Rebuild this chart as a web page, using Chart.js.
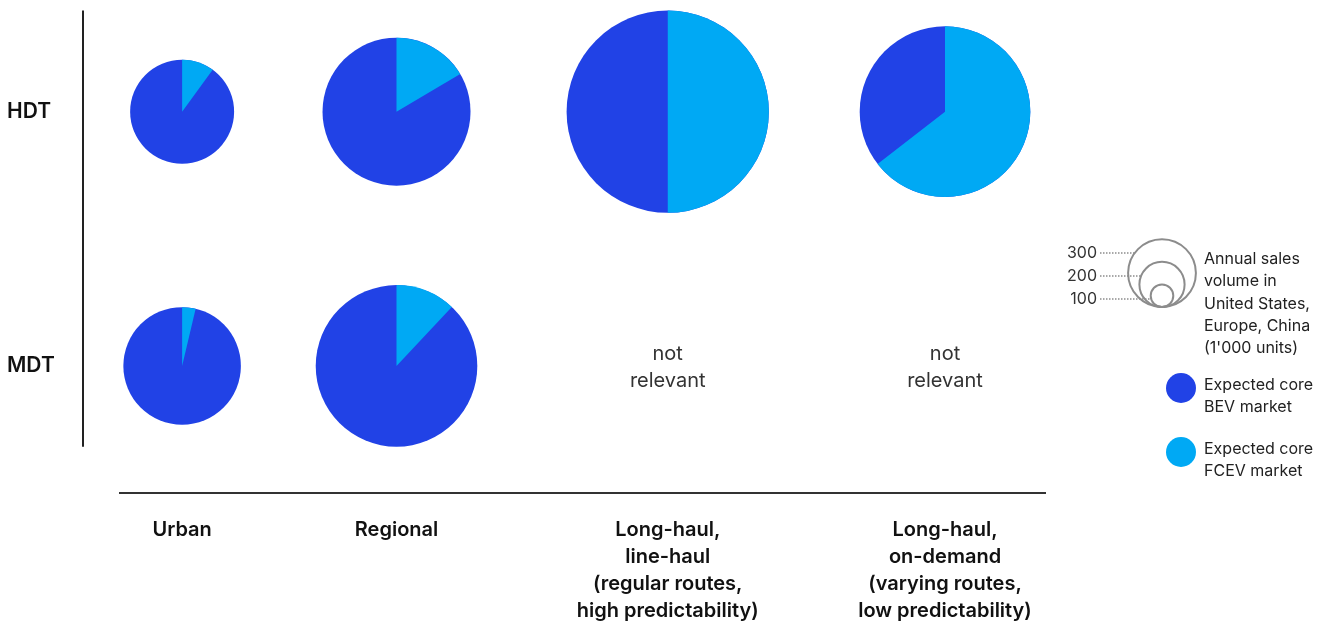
<!DOCTYPE html>
<html>
<head>
<meta charset="utf-8">
<script src="https://cdn.jsdelivr.net/npm/chart.js@4.4.0/dist/chart.umd.min.js"></script>
<style>
  html, body { margin: 0; padding: 0; background: #fff; }
  #wrap { position: relative; width: 1333px; height: 626px; }
</style>
</head>
<body>
<div id="wrap"><canvas id="truckChart"></canvas></div>
<script>
const segments = [
  ["Urban"],
  ["Regional"],
  ["Long-haul,", "line-haul", "(regular routes,", "high predictability)"],
  ["Long-haul,", "on-demand", "(varying routes,", "low predictability)"]
];
const truckClasses = ["HDT", "MDT"];
// annual sales volume, 1'000 units (null = not relevant)
const hdtVolume = [460, 655, 895, 755];
const mdtVolume = [520, 715, null, null];
// share of the expected core FCEV market, %
const hdtFcevShare = [10, 16.5, 50, 64.5];
const mdtFcevShare = [3.7, 12, null, null];
const legendVolumes = [300, 200, 100];
const notRelevantText = ["not", "relevant"];

const BEV_COLOR = "#2142e6";
const FCEV_COLOR = "#00a9f4";
const FONT = "Inter, 'Liberation Sans', Arial, sans-serif";
const PX_PER_UNIT = 0.113;   // bubble radius (px) per 1'000 units
const COLUMN_GAP = 180;      // extra spacing between columns, volume units

// column centres follow the size of the biggest pie in each column
const colMax = segments.map((_, i) => Math.max(hdtVolume[i] || 0, mdtVolume[i] || 0));
const colPos = [];
colMax.forEach((m, i) => {
  colPos.push(i === 0 ? 0 : colPos[i - 1] + colMax[i - 1] + m + COLUMN_GAP);
});
const xMin = colPos[0] - 410;
const xMax = colPos[colPos.length - 1] + 660;

function rowPoints(volumes, shares, row) {
  const points = [];
  volumes.forEach((v, i) => {
    if (v == null) return;
    points.push({ x: colPos[i], y: row, r: v * PX_PER_UNIT, volume: v, fcev: shares[i] });
  });
  return points;
}

// FCEV slice drawn clockwise from 12 o'clock on top of each BEV bubble
const fcevWedges = {
  id: "fcevWedges",
  afterDatasetsDraw(chart) {
    const ctx = chart.ctx;
    chart.data.datasets.forEach((ds, d) => {
      const meta = chart.getDatasetMeta(d);
      meta.data.forEach((pt, i) => {
        const share = ds.data[i].fcev / 100;
        const r = pt.options.radius;
        const start = -Math.PI / 2;
        ctx.save();
        ctx.beginPath();
        ctx.moveTo(pt.x, pt.y);
        ctx.arc(pt.x, pt.y, r, start, start + share * Math.PI * 2);
        ctx.closePath();
        ctx.fillStyle = FCEV_COLOR;
        ctx.fill();
        ctx.restore();
      });
    });
  }
};

const extras = {
  id: "extras",
  afterDraw(chart) {
    const ctx = chart.ctx;
    const xs = chart.scales.x;
    const ys = chart.scales.y;
    const area = chart.chartArea;

    // vertical rule spanning the pies
    let top = Infinity, bottom = -Infinity;
    chart.data.datasets.forEach((ds, d) => {
      chart.getDatasetMeta(d).data.forEach((pt) => {
        top = Math.min(top, pt.y - pt.options.radius);
        bottom = Math.max(bottom, pt.y + pt.options.radius);
      });
    });
    ctx.save();
    ctx.strokeStyle = "#222";
    ctx.lineWidth = 2;
    ctx.beginPath();
    ctx.moveTo(area.left - 37, top);
    ctx.lineTo(area.left - 37, bottom);
    ctx.stroke();

    // "not relevant" cells
    ctx.fillStyle = "#333";
    ctx.font = "400 20px " + FONT;
    ctx.textAlign = "center";
    ctx.textBaseline = "middle";
    [hdtVolume, mdtVolume].forEach((vols, row) => {
      vols.forEach((v, i) => {
        if (v != null) return;
        const cx = xs.getPixelForValue(colPos[i]);
        const cy = ys.getPixelForValue(row);
        notRelevantText.forEach((line, k) => {
          ctx.fillText(line, cx, cy - 12 + k * 27);
        });
      });
    });

    // legend
    const base = area.right;
    const sizeCx = base + 117;
    const sizeBottom = 307;
    ctx.font = "400 16px " + FONT;
    ctx.textAlign = "right";
    const sorted = legendVolumes.slice().sort((a, b) => a - b);
    sorted.forEach((v, k) => {
      const r = v * PX_PER_UNIT;
      const cy = sizeBottom - r;
      ctx.strokeStyle = "#8c8c8c";
      ctx.lineWidth = 2;
      ctx.setLineDash([]);
      ctx.beginPath();
      ctx.arc(sizeCx, cy, r, 0, Math.PI * 2);
      ctx.stroke();
      const ly = sizeBottom - 8 - 23 * k;
      const dy = ly - cy;
      const endX = sizeCx - Math.sqrt(Math.max(r * r - dy * dy, 0));
      ctx.lineWidth = 1.5;
      ctx.setLineDash([1.5, 1.5]);
      ctx.beginPath();
      ctx.moveTo(base + 55, ly);
      ctx.lineTo(endX, ly);
      ctx.stroke();
      ctx.setLineDash([]);
      ctx.fillStyle = "#333";
      ctx.fillText(String(v), base + 52, ly);
    });

    ctx.textAlign = "left";
    ctx.fillStyle = "#222";
    const sizeText = ["Annual sales", "volume in", "United States,", "Europe, China", "(1'000 units)"];
    sizeText.forEach((line, k) => ctx.fillText(line, base + 159, 259 + k * 22.4));

    const keys = [
      { color: BEV_COLOR, y: 388, lines: ["Expected core", "BEV market"] },
      { color: FCEV_COLOR, y: 452, lines: ["Expected core", "FCEV market"] }
    ];
    keys.forEach((key) => {
      ctx.fillStyle = key.color;
      ctx.beginPath();
      ctx.arc(base + 136, key.y, 15, 0, Math.PI * 2);
      ctx.fill();
      ctx.fillStyle = "#222";
      key.lines.forEach((line, k) => ctx.fillText(line, base + 159, key.y - 3 + k * 22.5));
    });
    ctx.restore();
  }
};

new Chart(document.getElementById("truckChart"), {
  type: "bubble",
  data: {
    datasets: [
      { label: truckClasses[0], data: rowPoints(hdtVolume, hdtFcevShare, 0), clip: false },
      { label: truckClasses[1], data: rowPoints(mdtVolume, mdtFcevShare, 1), clip: false }
    ]
  },
  options: {
    responsive: true,
    maintainAspectRatio: false,
    animation: false,
    events: [],
    layout: { autoPadding: false, padding: { left: 7, right: 288, top: 10, bottom: 0 } },
    elements: {
      point: { backgroundColor: BEV_COLOR, borderWidth: 0, hoverBorderWidth: 0 }
    },
    plugins: {
      legend: { display: false },
      tooltip: { enabled: false }
    },
    scales: {
      x: {
        type: "linear",
        min: xMin,
        max: xMax,
        afterBuildTicks: (scale) => { scale.ticks = colPos.map((v) => ({ value: v })); },
        afterFit: (scale) => { scale.height = 133; },
        grid: { display: false, drawTicks: false },
        border: { display: true, color: "#333", width: 2 },
        ticks: {
          autoSkip: false,
          maxRotation: 0,
          padding: 23,
          color: "#111",
          font: { family: FONT, size: 20, weight: "600", lineHeight: 1.35 },
          callback: (value, index) => segments[index]
        }
      },
      y: {
        type: "linear",
        reverse: true,
        min: -0.4,
        max: 1.5,
        afterBuildTicks: (scale) => { scale.ticks = truckClasses.map((_, i) => ({ value: i })); },
        afterFit: (scale) => {
          scale.width = 113;
          scale.paddingTop = 0;
          scale.paddingBottom = 0;
        },
        grid: { display: false, drawTicks: false },
        border: { display: false },
        ticks: {
          crossAlign: "far",
          color: "#111",
          font: { family: FONT, size: 21, weight: "600" },
          callback: (value) => truckClasses[value]
        }
      }
    }
  },
  plugins: [fcevWedges, extras]
});
</script>
</body>
</html>
